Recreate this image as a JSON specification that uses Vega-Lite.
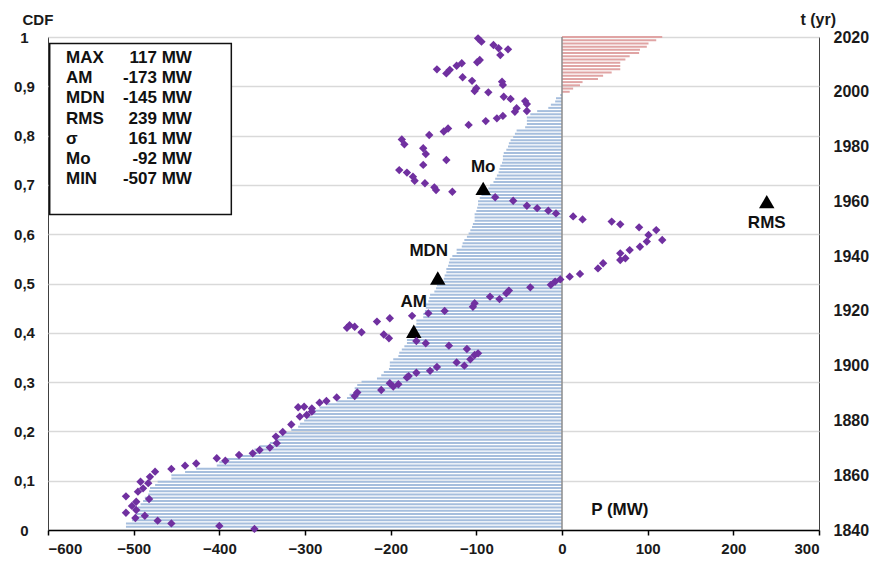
{
  "$schema": "https://vega.github.io/schema/vega-lite/v6.json",
  "width": 771,
  "height": 493,
  "autosize": "none",
  "padding": {"left": 48, "top": 37, "right": 59, "bottom": 32},
  "background": "white",
  "config": {
    "font": "Liberation Sans",
    "view": {"stroke": "#404040", "strokeWidth": 1},
    "axis": {"labelFont": "Liberation Sans", "labelFontWeight": "bold", "labelColor": "#1a1a1a", "titleFont": "Liberation Sans", "titleFontWeight": "bold", "titleColor": "#1a1a1a", "titleFontSize": 15, "labelFontSize": 15},
    "text": {"font": "Liberation Sans", "fontWeight": "bold", "color": "#111111"}
  },
  "datasets": {
    "bars": [
      {"P":-509,"cdf":0.0065},{"P":-509,"cdf":0.0131},{"P":-502,"cdf":0.0196},{"P":-498,"cdf":0.0261},{"P":-497,"cdf":0.0327},
      {"P":-497,"cdf":0.0392},{"P":-495,"cdf":0.0458},{"P":-492,"cdf":0.0523},{"P":-489,"cdf":0.0588},{"P":-487,"cdf":0.0654},
      {"P":-483,"cdf":0.0719},{"P":-482,"cdf":0.0784},{"P":-481,"cdf":0.0850},{"P":-475,"cdf":0.0915},{"P":-472,"cdf":0.0980},
      {"P":-456,"cdf":0.1046},{"P":-456,"cdf":0.1111},{"P":-440,"cdf":0.1176},{"P":-427,"cdf":0.1242},{"P":-403,"cdf":0.1307},
      {"P":-400,"cdf":0.1373},{"P":-393,"cdf":0.1438},{"P":-377,"cdf":0.1503},{"P":-361,"cdf":0.1569},{"P":-359,"cdf":0.1634},
      {"P":-353,"cdf":0.1699},{"P":-341,"cdf":0.1765},{"P":-334,"cdf":0.1830},{"P":-333,"cdf":0.1895},{"P":-326,"cdf":0.1961},
      {"P":-316,"cdf":0.2026},{"P":-308,"cdf":0.2092},{"P":-306,"cdf":0.2157},{"P":-301,"cdf":0.2222},{"P":-298,"cdf":0.2288},
      {"P":-292,"cdf":0.2353},{"P":-292,"cdf":0.2418},{"P":-283,"cdf":0.2484},{"P":-275,"cdf":0.2549},{"P":-263,"cdf":0.2614},
      {"P":-251,"cdf":0.2680},{"P":-248,"cdf":0.2745},{"P":-242,"cdf":0.2810},{"P":-242,"cdf":0.2876},{"P":-239,"cdf":0.2941},
      {"P":-234,"cdf":0.3007},{"P":-216,"cdf":0.3072},{"P":-211,"cdf":0.3137},{"P":-208,"cdf":0.3203},{"P":-202,"cdf":0.3268},
      {"P":-201,"cdf":0.3333},{"P":-201,"cdf":0.3399},{"P":-197,"cdf":0.3464},{"P":-191,"cdf":0.3529},{"P":-190,"cdf":0.3595},
      {"P":-187,"cdf":0.3660},{"P":-184,"cdf":0.3725},{"P":-181,"cdf":0.3791},{"P":-181,"cdf":0.3856},{"P":-179,"cdf":0.3922},
      {"P":-175,"cdf":0.3987},{"P":-174,"cdf":0.4052},{"P":-172,"cdf":0.4118},{"P":-170,"cdf":0.4183},{"P":-170,"cdf":0.4248},
      {"P":-162,"cdf":0.4314},{"P":-162,"cdf":0.4379},{"P":-160,"cdf":0.4444},{"P":-159,"cdf":0.4510},{"P":-159,"cdf":0.4575},
      {"P":-156,"cdf":0.4641},{"P":-155,"cdf":0.4706},{"P":-154,"cdf":0.4771},{"P":-149,"cdf":0.4837},{"P":-147,"cdf":0.4902},
      {"P":-146,"cdf":0.4967},{"P":-146,"cdf":0.5033},{"P":-138,"cdf":0.5098},{"P":-137,"cdf":0.5163},{"P":-135,"cdf":0.5229},
      {"P":-135,"cdf":0.5294},{"P":-133,"cdf":0.5359},{"P":-132,"cdf":0.5425},{"P":-131,"cdf":0.5490},{"P":-128,"cdf":0.5556},
      {"P":-123,"cdf":0.5621},{"P":-123,"cdf":0.5686},{"P":-117,"cdf":0.5752},{"P":-116,"cdf":0.5817},{"P":-114,"cdf":0.5882},
      {"P":-111,"cdf":0.5948},{"P":-109,"cdf":0.6013},{"P":-107,"cdf":0.6078},{"P":-105,"cdf":0.6144},{"P":-104,"cdf":0.6209},
      {"P":-102,"cdf":0.6275},{"P":-102,"cdf":0.6340},{"P":-102,"cdf":0.6405},{"P":-100,"cdf":0.6471},{"P":-99,"cdf":0.6536},
      {"P":-98,"cdf":0.6601},{"P":-98,"cdf":0.6667},{"P":-96,"cdf":0.6732},{"P":-94,"cdf":0.6797},{"P":-89,"cdf":0.6863},
      {"P":-86,"cdf":0.6928},{"P":-84,"cdf":0.6993},{"P":-80,"cdf":0.7059},{"P":-78,"cdf":0.7124},{"P":-76,"cdf":0.7190},
      {"P":-74,"cdf":0.7255},{"P":-73,"cdf":0.7320},{"P":-72,"cdf":0.7386},{"P":-70,"cdf":0.7451},{"P":-69,"cdf":0.7516},
      {"P":-69,"cdf":0.7582},{"P":-68,"cdf":0.7647},{"P":-65,"cdf":0.7712},{"P":-63,"cdf":0.7778},{"P":-62,"cdf":0.7843},
      {"P":-60,"cdf":0.7908},{"P":-57,"cdf":0.7974},{"P":-55,"cdf":0.8039},{"P":-53,"cdf":0.8105},{"P":-43,"cdf":0.8170},
      {"P":-41,"cdf":0.8235},{"P":-41,"cdf":0.8301},{"P":-41,"cdf":0.8366},{"P":-37,"cdf":0.8431},{"P":-29,"cdf":0.8497},
      {"P":-16,"cdf":0.8562},{"P":-13,"cdf":0.8627},{"P":-8,"cdf":0.8693},{"P":-7,"cdf":0.8758},{"P":-2,"cdf":0.8824},
      {"P":9,"cdf":0.8889},{"P":13,"cdf":0.8954},{"P":21,"cdf":0.9020},{"P":24,"cdf":0.9085},{"P":42,"cdf":0.9150},
      {"P":48,"cdf":0.9216},{"P":58,"cdf":0.9281},{"P":68,"cdf":0.9346},{"P":68,"cdf":0.9412},{"P":68,"cdf":0.9477},
      {"P":74,"cdf":0.9542},{"P":79,"cdf":0.9608},{"P":90,"cdf":0.9673},{"P":91,"cdf":0.9739},{"P":99,"cdf":0.9804},
      {"P":101,"cdf":0.9869},{"P":110,"cdf":0.9935},{"P":117,"cdf":1.0}
    ],
    "series": [
      {"t":1840.4,"P":-359},{"t":1841.5,"P":-400},{"t":1842.4,"P":-456},{"t":1843.4,"P":-472},{"t":1844.4,"P":-498},
      {"t":1845.2,"P":-487},{"t":1846.3,"P":-509},{"t":1847.3,"P":-497},{"t":1848.8,"P":-502},{"t":1850.3,"P":-497},
      {"t":1851.3,"P":-482},{"t":1852.3,"P":-509},{"t":1854.0,"P":-495},{"t":1855.2,"P":-489},{"t":1857.1,"P":-483},
      {"t":1857.6,"P":-492},{"t":1859.4,"P":-481},{"t":1861.3,"P":-475},{"t":1862.3,"P":-456},{"t":1863.5,"P":-440},
      {"t":1864.3,"P":-427},{"t":1865.3,"P":-393},{"t":1866.2,"P":-403},{"t":1867.4,"P":-377},{"t":1868.0,"P":-361},
      {"t":1869.2,"P":-353},{"t":1870.1,"P":-341},{"t":1871.7,"P":-333},{"t":1874.1,"P":-334},{"t":1875.8,"P":-326},
      {"t":1878.5,"P":-316},{"t":1881.4,"P":-306},{"t":1882.0,"P":-298},{"t":1883.2,"P":-292},{"t":1884.4,"P":-292},
      {"t":1884.8,"P":-308},{"t":1885.0,"P":-301},{"t":1886.5,"P":-283},{"t":1887.1,"P":-275},{"t":1888.4,"P":-263},
      {"t":1888.9,"P":-242},{"t":1890.2,"P":-239},{"t":1891.1,"P":-211},{"t":1892.4,"P":-197},{"t":1893.6,"P":-201},
      {"t":1893.2,"P":-191},{"t":1895.7,"P":-181},{"t":1896.2,"P":-179},{"t":1897.4,"P":-170},{"t":1898.1,"P":-154},
      {"t":1899.5,"P":-146},{"t":1901.2,"P":-123},{"t":1900.0,"P":-114},{"t":1902.3,"P":-107},{"t":1903.9,"P":-102},
      {"t":1904.5,"P":-98},{"t":1906.1,"P":-111},{"t":1907.3,"P":-132},{"t":1908.2,"P":-159},{"t":1909.0,"P":-170},
      {"t":1910.0,"P":-202},{"t":1911.4,"P":-208},{"t":1912.2,"P":-234},{"t":1913.8,"P":-251},{"t":1914.8,"P":-248},
      {"t":1914.2,"P":-242},{"t":1916.1,"P":-216},{"t":1917.3,"P":-201},{"t":1918.2,"P":-175},{"t":1919.1,"P":-156},
      {"t":1920.0,"P":-137},{"t":1921.5,"P":-104},{"t":1922.8,"P":-102},{"t":1925.2,"P":-84},{"t":1924.3,"P":-73},
      {"t":1926.4,"P":-65},{"t":1927.4,"P":-62},{"t":1928.6,"P":-37},{"t":1929.5,"P":-13},{"t":1930.7,"P":-8},
      {"t":1931.5,"P":-2},{"t":1932.5,"P":9},{"t":1933.5,"P":21},{"t":1935.5,"P":42},{"t":1937.4,"P":48},
      {"t":1938.6,"P":68},{"t":1939.2,"P":74},{"t":1941.0,"P":68},{"t":1942.2,"P":79},{"t":1943.4,"P":91},
      {"t":1945.3,"P":99},{"t":1945.9,"P":117},{"t":1947.7,"P":101},{"t":1949.5,"P":110},{"t":1950.5,"P":90},
      {"t":1951.6,"P":68},{"t":1952.6,"P":58},{"t":1953.4,"P":24},{"t":1954.5,"P":13},{"t":1955.6,"P":-7},
      {"t":1956.6,"P":-16},{"t":1957.5,"P":-29},{"t":1958.4,"P":-41},{"t":1960.2,"P":-57},{"t":1961.5,"P":-78},
      {"t":1963.5,"P":-128},{"t":1964.1,"P":-147},{"t":1965.1,"P":-149},{"t":1966.6,"P":-160},{"t":1967.5,"P":-172},
      {"t":1969.0,"P":-174},{"t":1970.5,"P":-181},{"t":1971.4,"P":-190},{"t":1975.1,"P":-135},{"t":1973.3,"P":-162},
      {"t":1977.3,"P":-159},{"t":1979.4,"P":-162},{"t":1980.8,"P":-184},{"t":1982.6,"P":-187},{"t":1984.2,"P":-155},
      {"t":1985.5,"P":-138},{"t":1986.6,"P":-133},{"t":1987.9,"P":-109},{"t":1989.3,"P":-89},{"t":1990.3,"P":-76},
      {"t":1991.2,"P":-69},{"t":1992.7,"P":-55},{"t":1993.0,"P":-41},{"t":1994.0,"P":-53},{"t":1995.5,"P":-41},
      {"t":1996.6,"P":-43},{"t":1997.4,"P":-60},{"t":1998.2,"P":-68},{"t":1999.8,"P":-86},{"t":2000.3,"P":-102},
      {"t":2001.3,"P":-100},{"t":2002.5,"P":-69},{"t":2003.7,"P":-70},{"t":2004.0,"P":-105},{"t":2005.3,"P":-116},
      {"t":2006.7,"P":-135},{"t":2008.0,"P":-131},{"t":2008.2,"P":-146},{"t":2009.5,"P":-123},{"t":2010.4,"P":-117},
      {"t":2010.8,"P":-99},{"t":2011.6,"P":-96},{"t":2013.4,"P":-72},{"t":2015.5,"P":-63},{"t":2015.9,"P":-74},
      {"t":2017.1,"P":-80},{"t":2018.3,"P":-94},{"t":2019.5,"P":-98}
    ],
    "stats": [
      {"stat":"MAX","label":"117 MW","P":117},
      {"stat":"AM","label":"-173 MW","P":-173,"cdf":0.403},
      {"stat":"MDN","label":"-145 MW","P":-145,"cdf":0.511},
      {"stat":"RMS","label":"239 MW","P":239,"cdf":0.666},
      {"stat":"σ","label":"161 MW","P":161},
      {"stat":"Mo","label":"-92 MW","P":-92,"cdf":0.693},
      {"stat":"MIN","label":"-507 MW","P":-507}
    ]
  },
  "layer": [
    {
      "data": {"name": "bars"},
      "mark": {"type": "rule", "strokeWidth": 2},
      "encoding": {
        "x": {"field": "P", "type": "quantitative", "scale": {"domain": [-600, 300], "nice": false, "zero": false},
          "axis": {"values": [-600, -500, -400, -300, -200, -100, 0, 100, 200, 300], "title": null, "grid": false, "domainColor": "#000000", "domainWidth": 1.5, "tickColor": "#000000", "tickSize": 5, "tickWidth": 1.5, "labelPadding": 6}},
        "x2": {"datum": 0},
        "y": {"field": "cdf", "type": "quantitative", "scale": {"domain": [0, 1], "nice": false, "zero": false},
          "axis": {"orient": "left", "values": [0, 0.1, 0.2, 0.3, 0.4, 0.5, 0.6, 0.7, 0.8, 0.9, 1], "labelExpr": "replace(format(datum.value, '.1~f'), '.', ',')", "ticks": false, "domain": false, "grid": true, "gridColor": "#d9d9d9", "gridWidth": 1.5, "labelAlign": "center", "labelPadding": 24, "title": "CDF", "titleAngle": 0, "titleAlign": "left", "titleBaseline": "alphabetic", "titleX": -26, "titleY": -13}},
        "color": {"condition": {"test": "datum.P > 0", "value": "#e0a4a4"}, "value": "#a6bedd"}
      }
    },
    {
      "data": {"values": [{}]},
      "mark": {"type": "rule", "color": "#8c8c8c", "strokeWidth": 1.5},
      "encoding": {"x": {"datum": 0, "type": "quantitative"}}
    },
    {
      "data": {"values": [{}]},
      "mark": {"type": "rect", "fill": "white", "stroke": "#111111", "strokeWidth": 1.5},
      "encoding": {
        "x": {"datum": -598, "type": "quantitative"},
        "x2": {"datum": -386},
        "y": {"datum": 0.987, "type": "quantitative", "scale": {"domain": [0, 1], "nice": false, "zero": false}, "axis": null},
        "y2": {"datum": 0.64}
      }
    },
    {
      "data": {"name": "stats"},
      "transform": [{"filter": "isValid(datum.cdf)"}],
      "mark": {"type": "point", "shape": "triangle-up", "filled": true, "color": "#000000", "size": 240, "opacity": 1},
      "encoding": {
        "x": {"field": "P", "type": "quantitative"},
        "y": {"field": "cdf", "type": "quantitative", "scale": {"domain": [0, 1], "nice": false, "zero": false}, "axis": null}
      }
    },
    {
      "data": {"name": "stats"},
      "transform": [{"filter": "datum.stat === 'Mo'"}],
      "mark": {"type": "text", "fontSize": 17, "dy": -21},
      "encoding": {"x": {"field": "P", "type": "quantitative"}, "y": {"field": "cdf", "type": "quantitative", "scale": {"domain": [0, 1], "nice": false, "zero": false}, "axis": null}, "text": {"field": "stat"}}
    },
    {
      "data": {"name": "stats"},
      "transform": [{"filter": "datum.stat === 'MDN'"}],
      "mark": {"type": "text", "fontSize": 17, "dy": -27, "dx": -9},
      "encoding": {"x": {"field": "P", "type": "quantitative"}, "y": {"field": "cdf", "type": "quantitative", "scale": {"domain": [0, 1], "nice": false, "zero": false}, "axis": null}, "text": {"field": "stat"}}
    },
    {
      "data": {"name": "stats"},
      "transform": [{"filter": "datum.stat === 'AM'"}],
      "mark": {"type": "text", "fontSize": 17, "dy": -29},
      "encoding": {"x": {"field": "P", "type": "quantitative"}, "y": {"field": "cdf", "type": "quantitative", "scale": {"domain": [0, 1], "nice": false, "zero": false}, "axis": null}, "text": {"field": "stat"}}
    },
    {
      "data": {"name": "stats"},
      "transform": [{"filter": "datum.stat === 'RMS'"}],
      "mark": {"type": "text", "fontSize": 17, "dy": 21},
      "encoding": {"x": {"field": "P", "type": "quantitative"}, "y": {"field": "cdf", "type": "quantitative", "scale": {"domain": [0, 1], "nice": false, "zero": false}, "axis": null}, "text": {"field": "stat"}}
    },
    {
      "data": {"values": [{"label": "P (MW)"}]},
      "mark": {"type": "text", "fontSize": 17, "align": "left"},
      "encoding": {"x": {"datum": 34, "type": "quantitative"}, "y": {"datum": 0.04, "type": "quantitative", "scale": {"domain": [0, 1], "nice": false, "zero": false}, "axis": null}, "text": {"field": "label"}}
    },
    {
      "data": {"name": "series"},
      "mark": {"type": "point", "shape": "diamond", "filled": true, "size": 70, "color": "#7030a0", "opacity": 1},
      "encoding": {
        "x": {"field": "P", "type": "quantitative"},
        "y": {"field": "t", "type": "quantitative", "scale": {"domain": [1840, 2020], "nice": false, "zero": false},
          "axis": {"orient": "right", "values": [1840, 1860, 1880, 1900, 1920, 1940, 1960, 1980, 2000, 2020], "format": "d", "ticks": false, "domain": false, "grid": false, "labelPadding": 14, "labelAlign": "left", "labelFontSize": 16, "title": "t (yr)", "titleFontSize": 16, "titleAngle": 0, "titleAlign": "left", "titleBaseline": "alphabetic", "titleX": -19, "titleY": -13}}
      }
    },
    {
      "data": {"name": "stats"},
      "transform": [{"window": [{"op": "row_number", "as": "line"}]}],
      "encoding": {
        "y": {"field": "line", "type": "quantitative", "scale": {"domain": [-0.06, 24.47], "nice": false, "zero": false, "reverse": true}, "axis": null}
      },
      "layer": [
        {
          "mark": {"type": "text", "fontSize": 17, "align": "left"},
          "encoding": {"x": {"datum": -579, "type": "quantitative"}, "text": {"field": "stat"}}
        },
        {
          "mark": {"type": "text", "fontSize": 17, "align": "right"},
          "encoding": {"x": {"datum": -432, "type": "quantitative"}, "text": {"field": "label"}}
        }
      ]
    }
  ],
  "resolve": {"scale": {"y": "independent"}}
}
